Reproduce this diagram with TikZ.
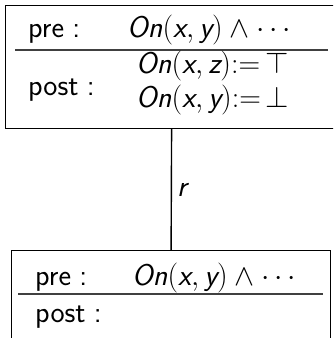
\RequirePackage{fix-cm}
\documentclass[tikz,border=0pt]{standalone}
\usepackage{fontspec}
\setmainfont{Latin Modern Sans}
\newcommand{\mvar}[1]{\textit{#1}}
\newcommand{\onxy}[2]{\mvar{On}(\mvar{#1}, \mvar{#2})}
\begin{document}
\begin{tikzpicture}[x=1pt,y=-1pt,
  box/.style={draw=black, line width=1.2pt, anchor=north west, inner sep=0pt},
  sep/.style={draw=black!75, line width=1.2pt},
  txt/.style={anchor=base west, inner sep=0pt, font=\fontsize{30}{35}\selectfont},
  conn/.style={draw=black, line width=1.4pt}]
\useasboundingbox (0,0) rectangle (333,338);
\clip (0,0) rectangle (333,338);
% top box
\node[box, minimum width=332pt, minimum height=123pt] (top) at (5,5) {};
\coordinate (tl1) at (15,50);
\coordinate (tl2) at (328,50);
\draw[sep] (tl1) -- (tl2);
\node[txt] (tpre) at (28,37) {pre\;:};
\node[txt] (tprec) at (127,37) {$\onxy{x}{y} \wedge \cdots$};
\node[txt] (tpost) at (28,95) {post\;:};
\node[txt] (teff1) at (136,73) {$\onxy{x}{z}{:}{=}\,{\top}$};
\node[txt] (teff2) at (136,107) {$\onxy{x}{y}{:}{=}\,{\bot}$};
% bottom box
\node[box, minimum width=319pt, minimum height=120pt] (bot) at (11,250) {};
\coordinate (bl1) at (18,294);
\coordinate (bl2) at (323,294);
\draw[sep] (bl1) -- (bl2);
\node[txt] (bpre) at (35,285) {pre\;:};
\node[txt] (bprec) at (132,285) {$\onxy{x}{y} \wedge \cdots$};
\node[txt] (bpost) at (35,322) {post\;:};
% connector
\draw[conn] (top.south) -- node[right=5pt, font=\fontsize{30}{35}\selectfont, inner sep=0pt] (rlab) {$\mvar{r}$} (bot.north);
\end{tikzpicture}
\end{document}
